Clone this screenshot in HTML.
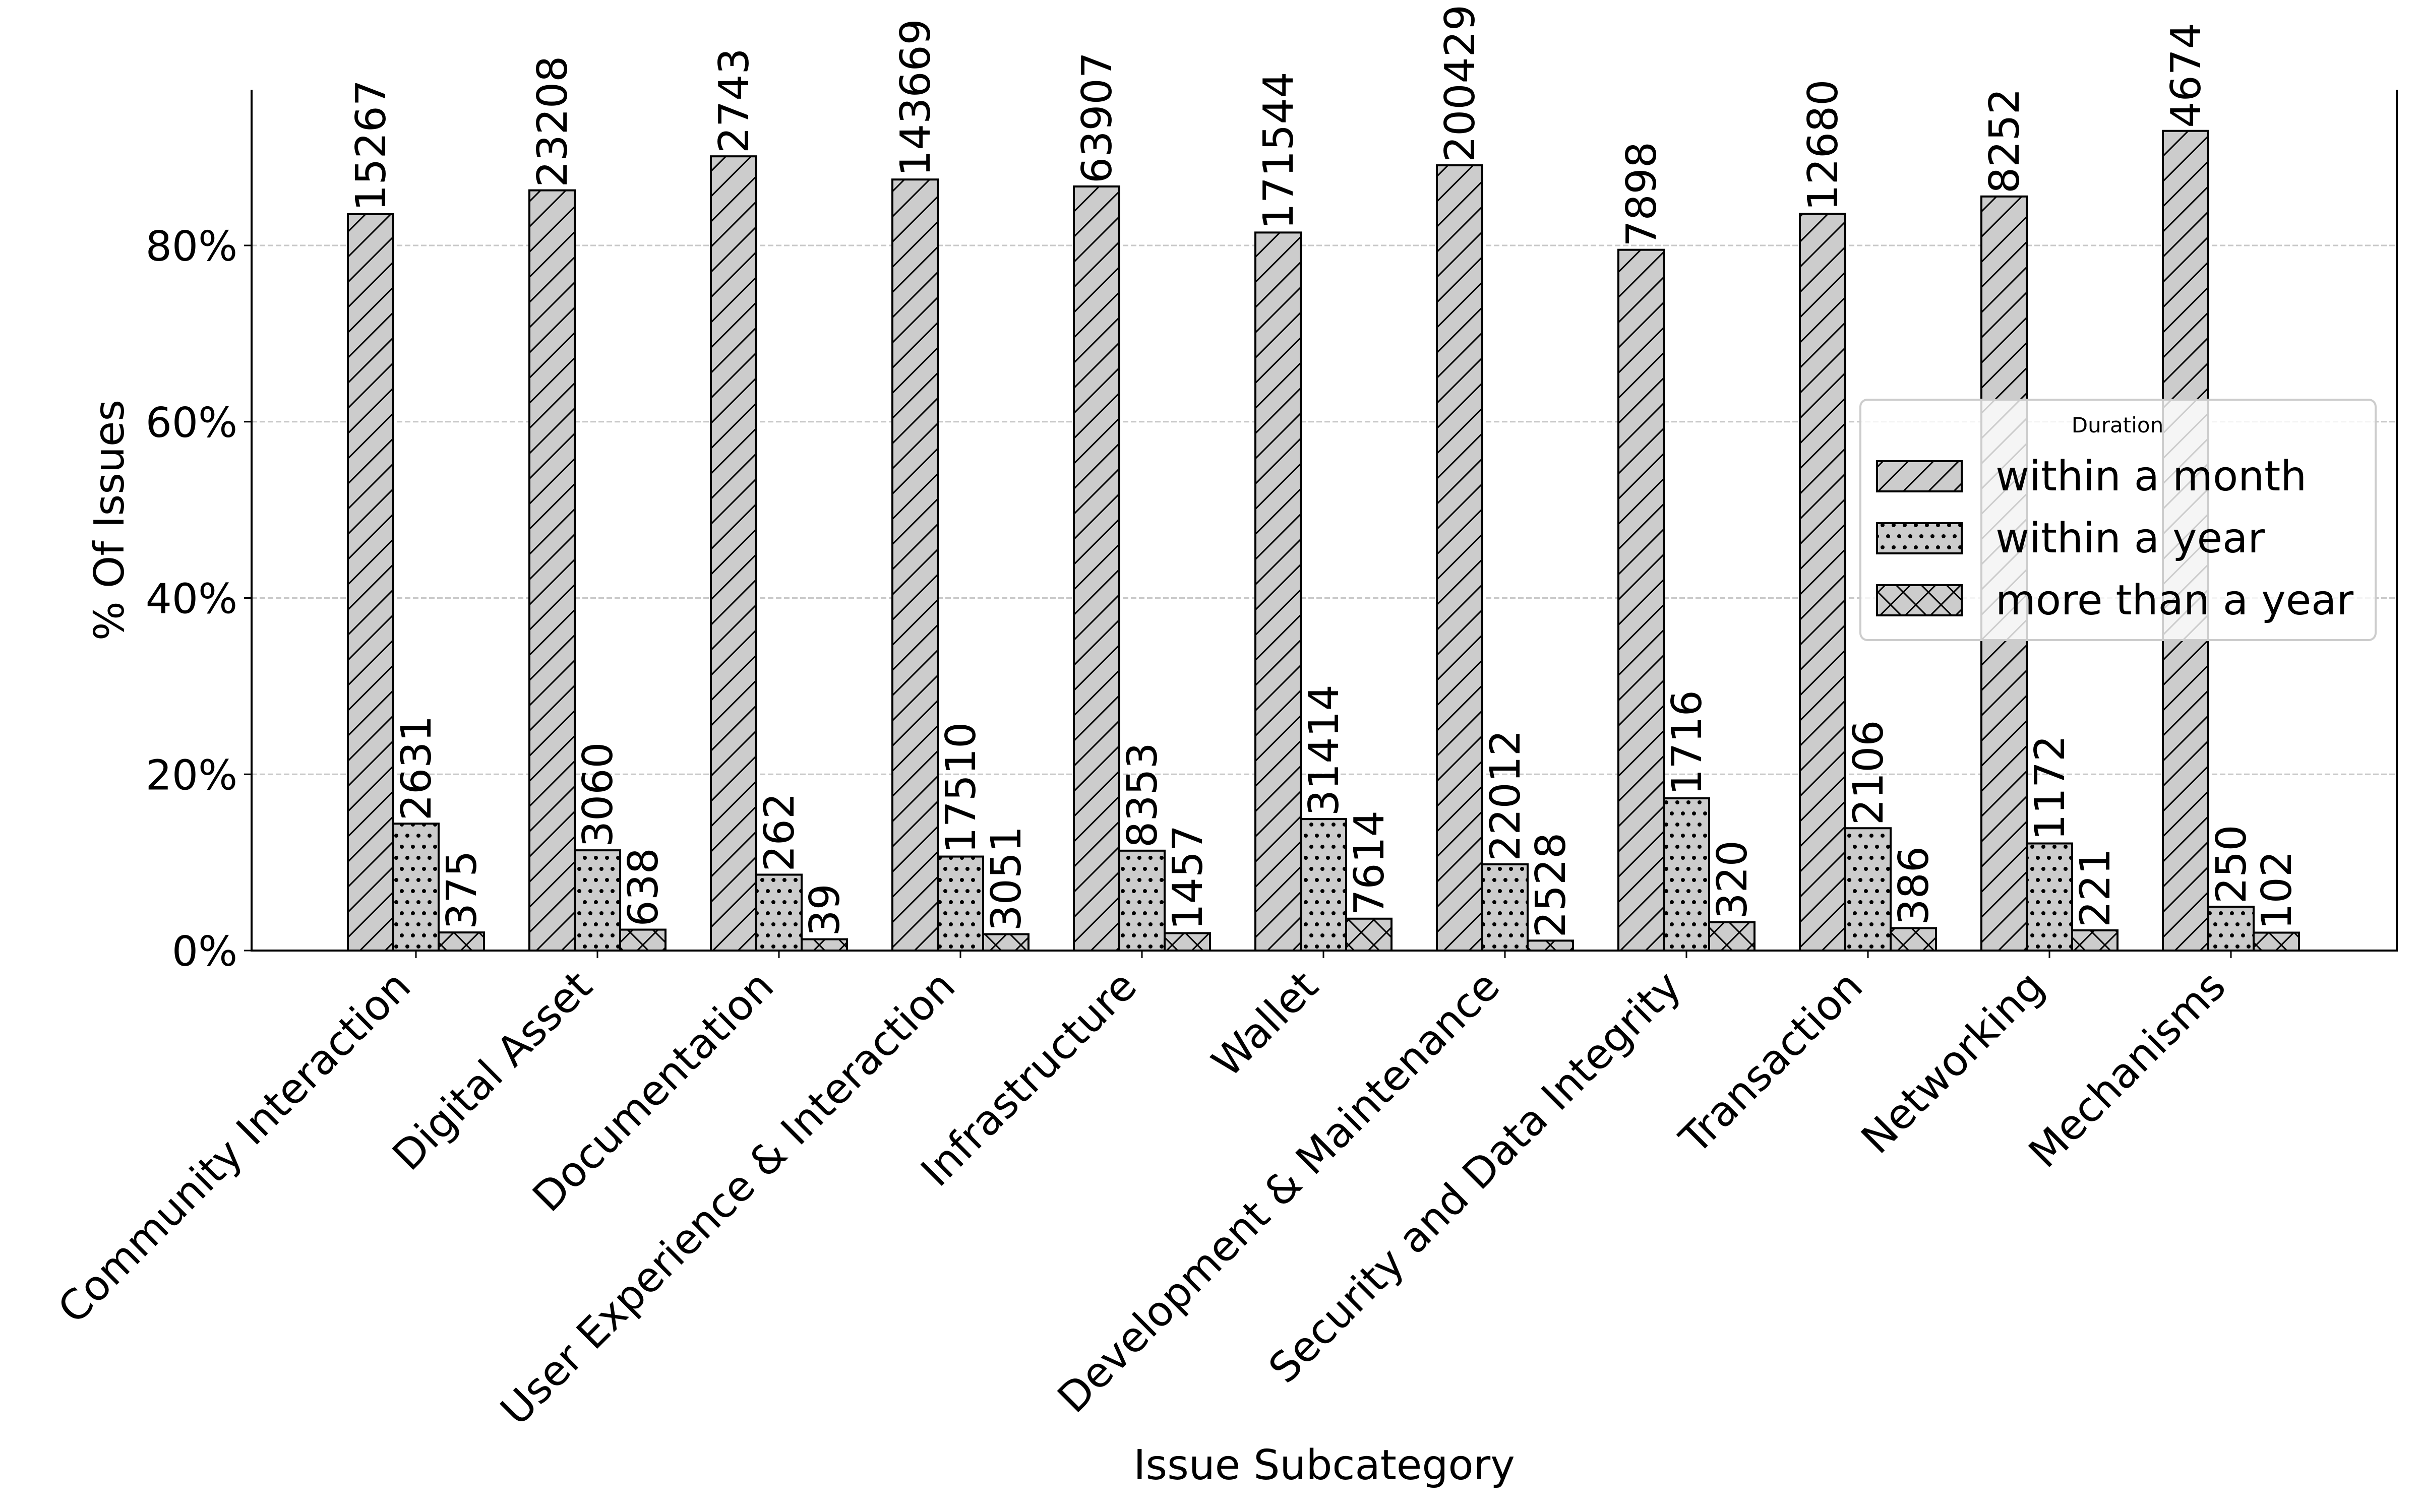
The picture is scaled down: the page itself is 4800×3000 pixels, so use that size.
<!DOCTYPE html>
<html><head><meta charset="utf-8"><style>
html,body{margin:0;padding:0;background:#fff;}
svg{display:block;font-family:"DejaVu Sans","Liberation Sans",sans-serif;}
</style></head><body>
<svg id="chart" width="4800" height="3000" viewBox="0 0 4800 3000" xmlns="http://www.w3.org/2000/svg">
<defs>
<pattern id="hatch-slash" patternUnits="userSpaceOnUse" width="50" height="50">
<rect width="50" height="50" fill="#cccccc"/>
<path d="M-10,60 L60,-10 M-60,60 L10,-10 M40,60 L110,-10" stroke="#000" stroke-width="3"/>
</pattern>
<pattern id="hatch-dots" patternUnits="userSpaceOnUse" width="22" height="44">
<rect width="22" height="44" fill="#cccccc"/>
<circle cx="5" cy="8" r="4" fill="#000"/>
<circle cx="16" cy="30" r="4" fill="#000"/>
</pattern>
<pattern id="hatch-cross" patternUnits="userSpaceOnUse" width="50" height="50">
<rect width="50" height="50" fill="#cccccc"/>
<path d="M-10,60 L60,-10 M-60,60 L10,-10 M40,60 L110,-10 M-10,-10 L60,60 M-60,-10 L10,60 M40,-10 L110,60" stroke="#000" stroke-width="3"/>
</pattern>
</defs>
<g id="grid"></g>
<g id="bars"></g>
<g id="axes"></g>
<g id="legend"></g>
</svg>
<script>
const categories = ["Community Interaction","Digital Asset","Documentation","User Experience & Interaction","Infrastructure","Wallet","Development & Maintenance","Security and Data Integrity","Transaction","Networking","Mechanisms"];
const withinMonth = [15267,23208,2743,143669,63907,171544,200429,7898,12680,8252,4674];
const withinYear = [2631,3060,262,17510,8353,31414,22012,1716,2106,1172,250];
const moreThanYear = [375,638,39,3051,1457,7614,2528,320,386,221,102];
const seriesNames = ["within a month","within a year","more than a year"];
const yTicks = [0,20,40,60,80];

const NS = "http://www.w3.org/2000/svg";
const X0 = 499, X1 = 4754, Y0 = 1886, Y1 = 178;
const pxPerPct = 1399/80;
const groupStart = 825, groupStep = 360, barW = 90;
function yScale(p){ return Y0 - p*pxPerPct; }
function xCenter(i){ return groupStart + i*groupStep; }
function mk(tag, attrs, parent){ const e=document.createElementNS(NS,tag); for(const k in attrs) e.setAttribute(k,attrs[k]); parent.appendChild(e); return e; }

const grid = document.getElementById('grid');
const bars = document.getElementById('bars');
const axes = document.getElementById('axes');
const legend = document.getElementById('legend');

yTicks.forEach(t=>{
  if(t>0){
    const g = mk('line',{x1:X0,x2:X1,y1:yScale(t),y2:yScale(t),stroke:'#c8c8c8','stroke-width':3,'stroke-dasharray':'11,5'},grid);
    
    
  }
  const tk = mk('line',{x1:X0-15,x2:X0,y1:yScale(t),y2:yScale(t),stroke:'#000','stroke-width':3},axes);
  
  
  const lb = mk('text',{x:X0-28,y:yScale(t)+30,'text-anchor':'end','font-size':82},axes);
  lb.textContent = t+'%';
  
  
});

const series = [withinMonth, withinYear, moreThanYear];
const fills = ['url(#hatch-slash)','url(#hatch-dots)','url(#hatch-cross)'];
categories.forEach((c,i)=>{
  const total = withinMonth[i]+withinYear[i]+moreThanYear[i];
  series.forEach((s,j)=>{
    const pct = s[i]/total*100;
    const x = xCenter(i) + (j-1)*barW - barW/2;
    const y = yScale(pct);
    const r = mk('rect',{x:x,y:y,width:barW,height:Y0-y,fill:fills[j],stroke:'#000','stroke-width':4},bars);
    
    
    const tx = x+barW/2+29, ty = y-6;
    const t = mk('text',{x:tx,y:ty,'font-size':82,transform:'rotate(-90 '+tx+' '+ty+')'},bars);
    t.textContent = s[i];
    
    
  });
  const tk = mk('line',{x1:xCenter(i),x2:xCenter(i),y1:Y0,y2:Y0+15,stroke:'#000','stroke-width':3},axes);
  
  
  const ax = xCenter(i)-38, ay = Y0+44;
  const lb = mk('text',{x:ax,y:ay,'text-anchor':'end','font-size':82,transform:'rotate(-45 '+ax+' '+ay+')',dy:'0.55em'},axes);
  lb.textContent = c;
  
  
});

const sl = mk('path',{d:`M${X0},${Y1} L${X0},${Y0} L${X1},${Y0} L${X1},${Y1}`,fill:'none',stroke:'#000','stroke-width':4},axes);



const xl = mk('text',{x:(X0+X1)/2,y:2935,'text-anchor':'middle','font-size':82},axes);
xl.textContent='Issue Subcategory';


const yl = mk('text',{x:245,y:(Y0+Y1)/2,'text-anchor':'middle','font-size':82,transform:`rotate(-90 245 ${(Y0+Y1)/2})`},axes);
yl.textContent='% Of Issues';



const lbox = mk('rect',{x:3690,y:793,width:1022,height:477,rx:14,fill:'#fff','fill-opacity':0.8,stroke:'#cccccc','stroke-width':4},legend);


const lt = mk('text',{x:4200,y:858,'text-anchor':'middle','font-size':42},legend);
lt.textContent='Duration';


seriesNames.forEach((n,j)=>{
  const py = 915 + j*123;
  const p = mk('rect',{x:3723,y:py,width:168,height:60,fill:fills[j],stroke:'#000','stroke-width':4},legend);
  
  
  const t = mk('text',{x:3958,y:py+58,'font-size':82},legend);
  t.textContent=n;
  
  
});
</script>
</body></html>
